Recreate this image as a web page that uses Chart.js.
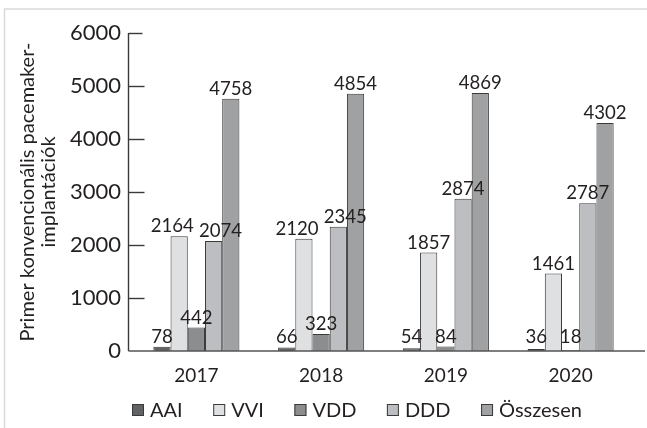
<!DOCTYPE html>
<html>
<head>
<meta charset="utf-8">
<script src="https://cdn.jsdelivr.net/npm/chart.js@4.4.1/dist/chart.umd.min.js"></script>
<style>
  html, body { margin: 0; padding: 0; background: #fff; }
  canvas { display: block; }
</style>
</head>
<body>
<canvas id="c" width="647" height="428"></canvas>
<script>
const categories = ['2017', '2018', '2019', '2020'];
const seriesNames = ['AAI', 'VVI', 'VDD', 'DDD', 'Összesen'];
const aai = [78, 66, 54, 36];
const vvi = [2164, 2120, 1857, 1461];
const vdd = [442, 323, 84, 18];
const ddd = [2074, 2345, 2874, 2787];
const osszesen = [4758, 4854, 4869, 4302];
const yTicks = [0, 1000, 2000, 3000, 4000, 5000, 6000];
const colors = ['#616264', '#dfe0e2', '#8c8d8f', '#bdbec1', '#a0a1a3'];

const FONT = 'Lato, "Open Sans", sans-serif';
const TEXT = '#231f20';
const W = 'normal';

const framePlugin = {
  id: 'frame',
  beforeDraw(chart) {
    const ctx = chart.ctx;
    ctx.save();
    ctx.strokeStyle = '#d9d9d9';
    ctx.lineWidth = 1.5;
    ctx.beginPath();
    ctx.moveTo(4.5, chart.height);
    ctx.lineTo(4.5, 9);
    ctx.lineTo(chart.width, 9);
    ctx.stroke();
    ctx.restore();
  }
};

const axesPlugin = {
  id: 'axesDraw',
  afterDatasetsDraw(chart) {
    const ctx = chart.ctx;
    const y = chart.scales.y;
    const area = chart.chartArea;
    const ax = area.left - 5.5;
    ctx.save();
    ctx.strokeStyle = '#3a3a3a';
    ctx.lineWidth = 1.4;
    ctx.beginPath();
    ctx.moveTo(ax, y.getPixelForValue(6000));
    ctx.lineTo(ax, y.getPixelForValue(0));
    ctx.stroke();
    yTicks.forEach(v => {
      if (v === 0) return;
      const py = Math.round(y.getPixelForValue(v)) + 0.5;
      ctx.beginPath();
      ctx.moveTo(ax, py);
      ctx.lineTo(ax + (v === 6000 ? 14 : 16), py);
      ctx.stroke();
    });
    ctx.strokeStyle = '#555';
    ctx.beginPath();
    const by = y.getPixelForValue(0);
    ctx.moveTo(ax, by);
    ctx.lineTo(chart.width - 2, by);
    ctx.stroke();

    // data labels, nudged apart horizontally when they collide
    const fs = 18.6;
    ctx.fillStyle = TEXT;
    ctx.font = W + ' ' + fs + 'px ' + FONT;
    ctx.textAlign = 'center';
    ctx.textBaseline = 'alphabetic';
    categories.forEach((c, i) => {
      const labs = chart.data.datasets.map((ds, di) => {
        const bar = chart.getDatasetMeta(di).data[i];
        const t = String(ds.data[i]);
        return { t, x: bar.x, y: Math.min(bar.y - 4, by - 8), w: ctx.measureText(t).width };
      });
      for (let a = 0; a < labs.length; a++) {
        for (let b = a + 1; b < labs.length; b++) {
          const A = labs[a], B = labs[b];
          if (Math.abs(A.y - B.y) >= fs * 0.8) continue;
          const ov = (A.x + A.w / 2 + 5) - (B.x - B.w / 2);
          if (ov > 0) { A.x -= ov / 2; B.x += ov / 2; }
        }
      }
      labs.forEach(L => ctx.fillText(L.t, L.x, L.y));
    });

    // legend
    ctx.font = W + ' 20px ' + FONT;
    ctx.textAlign = 'left';
    const box = 12, gapText = 6;
    const widths = seriesNames.map(n => box + gapText + ctx.measureText(n).width);
    const startX = area.left - 2, endX = 582;
    const total = widths.reduce((a, b) => a + b, 0);
    const gap = (endX - startX - total) / (seriesNames.length - 1);
    let x = startX;
    const ly = 404;
    seriesNames.forEach((n, i) => {
      ctx.fillStyle = colors[i];
      ctx.fillRect(x, ly, box, box);
      ctx.strokeStyle = '#3a3a3a';
      ctx.lineWidth = 1;
      ctx.strokeRect(x + 0.5, ly + 0.5, box - 1, box - 1);
      ctx.fillStyle = TEXT;
      ctx.fillText(n, x + box + gapText, ly + 13);
      x += widths[i] + gap;
    });
    ctx.restore();
  }
};

const seriesData = [aai, vvi, vdd, ddd, osszesen];
new Chart(document.getElementById('c'), {
  type: 'bar',
  data: {
    labels: categories,
    datasets: seriesNames.map((n, i) => ({
      label: n,
      data: seriesData[i],
      backgroundColor: colors[i],
      borderColor: '#3a3a3a',
      borderWidth: 1,
      categoryPercentage: 0.69,
      barPercentage: 1.0
    }))
  },
  options: {
    responsive: false,
    animation: false,
    devicePixelRatio: 1,
    layout: { padding: { top: 33, right: 14, bottom: 0, left: 0 } },
    plugins: { legend: { display: false }, tooltip: { enabled: false } },
    scales: {
      x: {
        grid: { display: false, drawTicks: false },
        border: { display: false },
        ticks: { color: TEXT, font: { family: FONT, size: 19, weight: W }, padding: 13 },
        afterFit(s) { s.height = 77; }
      },
      y: {
        min: 0, max: 6000,
        afterBuildTicks(s) { s.ticks = yTicks.map(v => ({ value: v })); },
        grid: { display: false, drawTicks: false },
        border: { display: false },
        ticks: {
          color: TEXT, font: { family: FONT, size: 22, weight: W }, padding: 13,
          callback: v => String(v)
        },
        title: {
          display: true,
          text: ['Primer konvencionális pacemaker-', 'implantációk'],
          color: TEXT,
          font: { family: FONT, size: 20, lineHeight: 1.05, weight: W },
          padding: { top: 17, bottom: 0 }
        },
        afterFit(s) { s.width = 134; }
      }
    }
  },
  plugins: [framePlugin, axesPlugin]
});
</script>
</body>
</html>
